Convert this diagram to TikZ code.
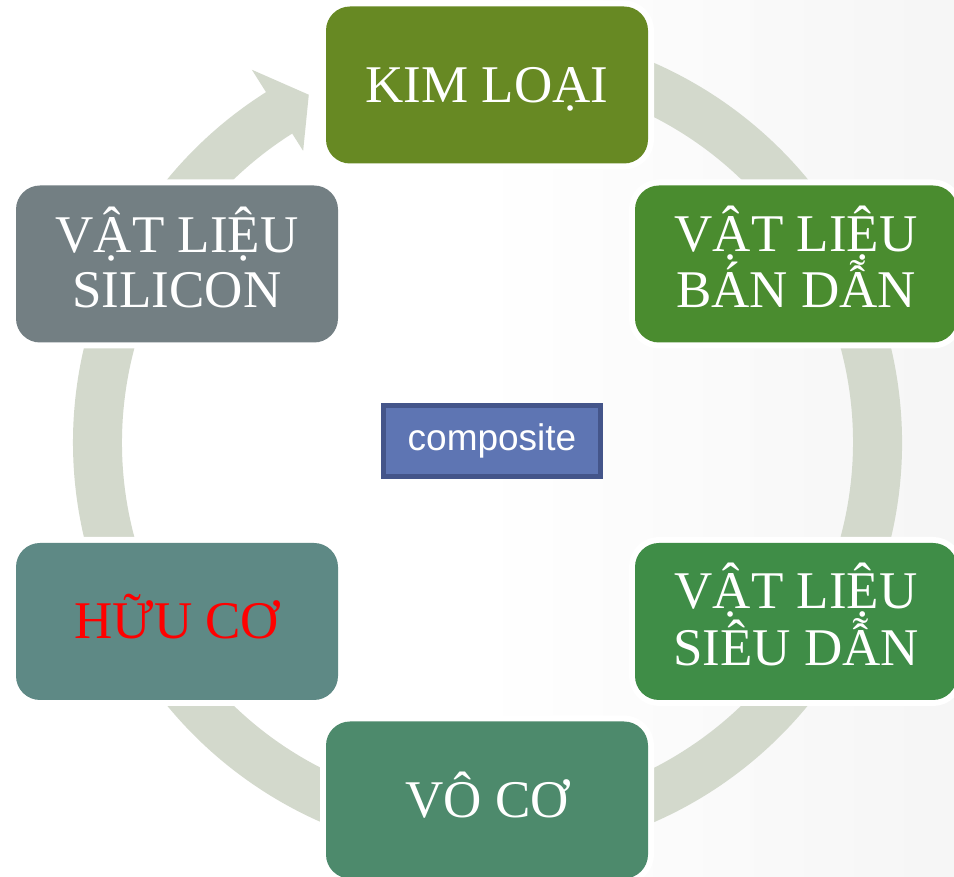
\documentclass[tikz,border=0pt]{standalone}
\usepackage{fontspec}
\setmainfont{Liberation Serif}
\newfontfamily\arialf{Liberation Sans}
\definecolor{ringc}{RGB}{211,217,204}
\definecolor{ckim}{RGB}{103,137,35}
\definecolor{cban}{RGB}{74,140,47}
\definecolor{csieu}{RGB}{63,141,71}
\definecolor{cvo}{RGB}{77,138,108}
\definecolor{chuu}{RGB}{94,137,133}
\definecolor{csil}{RGB}{115,127,131}
\definecolor{compfill}{RGB}{94,117,179}
\definecolor{compdraw}{RGB}{68,85,138}
\definecolor{bggray}{RGB}{236,236,236}
\pgfdeclarehorizontalshading{bgshade}{100bp}{color(0bp)=(white); color(50bp)=(white); color(100bp)=(bggray)}
\tikzset{
  cyclebox/.style={rectangle, rounded corners=24pt, minimum width=322pt, minimum height=157pt,
    inner sep=0pt, text=white, align=center, font=\fontsize{53}{55}\selectfont,
    preaction={draw=white, line width=12pt}},
  oneline/.style={text height=35pt, text depth=0pt},
  twoline/.style={text height=90pt, text depth=2pt},
  compbox/.style={rectangle, fill=compfill, draw=compdraw, line width=5pt,
    minimum width=217pt, minimum height=71pt, inner sep=0pt, text=white,
    font=\arialf\fontsize{37}{40}\selectfont}
}
\begin{document}
\begin{tikzpicture}[x=1pt,y=1pt]
\useasboundingbox (0,0) rectangle (954,877);
\shade[shading=bgshade] (0,0) rectangle (954,877);
% ring arrow
\begin{scope}[shift={(487.5,434.5)}]
\fill[ringc] (100:414.5) arc[start angle=100, end angle=-237.7, radius=414.5]
  -- (-237.7:441) -- (-242.8:391) -- (-237.7:345)
  -- (-237.7:365.5) arc[start angle=-237.7, end angle=100, radius=365.5] -- cycle;
\end{scope}
% boxes
\node[cyclebox, oneline, fill=ckim] (kim) at (487,792) {KIM LOẠI};
\node[cyclebox, twoline, fill=cban] (ban) at (796,613) {VẬT LIỆU\\BÁN DẪN};
\node[cyclebox, twoline, fill=csieu] (sieu) at (796,255.5) {VẬT LIỆU\\SIÊU DẪN};
\node[cyclebox, oneline, fill=cvo] (vo) at (487,77) {VÔ CƠ};
\node[cyclebox, oneline, fill=chuu, text=red] (huu) at (177,255.5) {HỮU CƠ};
\node[cyclebox, twoline, fill=csil] (sil) at (177,613) {VẬT LIỆU\\SILICON};
\node[compbox, text height=19pt, text depth=0pt] (comp) at (492,436) {composite};
\end{tikzpicture}
\end{document}
